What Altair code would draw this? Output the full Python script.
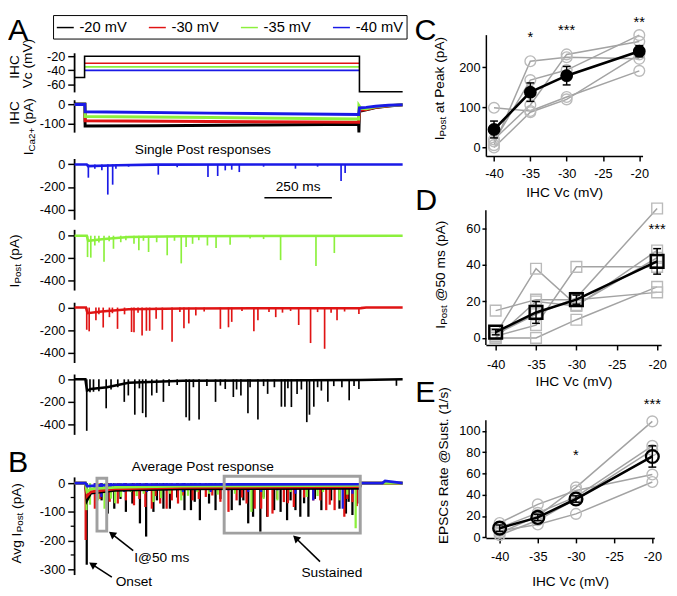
import altair as alt
import pandas as pd

FONT = "Liberation Sans"
CONDS = ["-20 mV", "-30 mV", "-35 mV", "-40 mV"]
COLORS = ["#000000", "#e01414", "#8cf03c", "#1a1ae6"]
BLACK, RED, GREEN, BLUE = COLORS
GRAY_LINE = "#a3a3a3"
GRAY_MARK = "#bababa"
BOX_GRAY = "#a0a0a0"
T_DOMAIN = [0, 1215]

# ---------------- A: IHC command voltage (mV) ----------------
VC_BLACK_T = [0, 37, 37, 1055, 1055, 1215]
VC_BLACK_V = [-50, -50, -20, -20, -70, -70]
VC_STEP_T = [37, 1055]
VC_STEP_LEVELS = [-30, -35, -40]

# ---------------- A: IHC Ca2+ current (pA) ----------------
ICA_BLACK_T = [0, 38, 39, 300, 700, 1052, 1053, 1055, 1080, 1115, 1163, 1215]
ICA_BLACK_V = [2, 2, -112, -110, -106, -103, -145, -35, -28, -16, -8, -2]
ICA_RED_T = [0, 38, 39, 500, 1052, 1055, 1080, 1115, 1163, 1215]
ICA_RED_V = [0, 0, -84, -88, -92, -30, -26, -15, -7, -2]
ICA_GREEN_T = [0, 38, 39, 500, 1052, 1053, 1060, 1080, 1115, 1163, 1215]
ICA_GREEN_V = [0, 0, -62, -68, -75, -5, -20, -22, -12, -6, -1]
ICA_BLUE_T = [0, 38, 39, 500, 1052, 1055, 1080, 1115, 1163, 1215]
ICA_BLUE_V = [0, 0, -38, -45, -52, -18, -15, -9, -4, -1]

# ---------------- A: single post responses: EPSC times (ms) / peaks (pA) ----------------
BLUE_EV_T = [51, 75, 101, 123, 141, 153, 200, 310, 380, 494, 530, 558, 582, 610, 700, 818, 900, 987, 1002]
BLUE_EV_A = [-118, -38, -53, -268, -180, -38, -20, -91, -25, -112, -103, -53, -47, -68, -20, -38, -20, -147, -76]
BLUE_BASE_T = [0, 45, 50, 160, 300, 1215]
BLUE_BASE_V = [0, 0, -15, -8, -2, 0]

GREEN_EV_T = [48, 60, 75, 90, 109, 128, 144, 171, 190, 220, 238, 255, 274, 304, 343, 370, 395, 413, 437, 460,
              492, 524, 576, 650, 700, 763, 894, 962]
GREEN_EV_A = [-190, -195, -87, -60, -232, -50, -116, -58, -40, -72, -130, -45, -145, -58, -174, -45, -246, -101,
              -72, -40, -87, -110, -81, -25, -30, -217, -270, -154]
GREEN_BASE_T = [0, 45, 50, 110, 200, 400, 1215]
GREEN_BASE_V = [0, 0, -45, -30, -12, -5, 0]

RED_EV_T = [45, 54, 79, 90, 106, 129, 140, 159, 185, 211, 220, 235, 250, 266, 278, 302, 325, 361, 390, 405,
            423, 449, 480, 540, 570, 582, 620, 664, 679, 720, 745, 770, 800, 830, 874, 900, 926, 950, 972, 1000, 1053]
RED_EV_A = [-197, -211, -113, -60, -177, -85, -50, -189, -60, -217, -220, -45, -248, -206, -206, -99, -197, -304,
            -40, -183, -141, -70, -35, -189, -175, -127, -30, -211, -113, -40, -85, -45, -30, -155, -315, -40,
            -366, -45, -113, -35, -56]
RED_BASE_T = [0, 42, 48, 100, 200, 400, 1060, 1080, 1215]
RED_BASE_V = [0, 0, -50, -35, -15, -8, -5, 0, 0]

BLACK_EV_T = [45, 57, 70, 90, 117, 135, 160, 184, 199, 223, 240, 252, 264, 286, 304, 329, 350, 380, 413, 425,
              440, 461, 490, 522, 540, 558, 588, 600, 616, 642, 650, 679, 700, 715, 740, 766, 779, 790, 803, 824,
              840, 860, 870, 886, 900, 914, 938, 960, 990, 1017, 1035, 1053, 1192]
BLACK_EV_A = [-457, -114, -110, -105, -257, -90, -70, -200, -143, -314, -80, -300, -337, -143, -120, -200, -60,
              -50, -337, -366, -70, -357, -60, -200, -55, -86, -157, -90, -143, -300, -70, -357, -60, -129, -70,
              -243, -243, -80, -246, -129, -90, -380, -314, -243, -70, -100, -200, -60, -70, -186, -60, -86, -57]
BLACK_BASE_T = [0, 40, 46, 60, 120, 200, 400, 1060, 1215]
BLACK_BASE_V = [0, 0, -100, -85, -70, -30, -12, -6, 0]

# ---------------- B: average post responses ----------------
AVG_BLACK_EV_T = [45, 100, 123, 147, 170, 190, 214, 242, 265, 292, 305, 329, 353, 380, 407, 431, 445, 464, 498,
                  522, 540, 582, 612, 625, 643, 661, 688, 700, 713, 739, 763, 787, 800, 818, 836, 850, 866, 890,
                  914, 950, 981, 1005, 1015, 1029, 1047]
AVG_BLACK_EV_A = [-284, -60, -106, -89, -55, -100, -71, -140, -186, -100, -60, -89, -89, -50, -94, -94, -65, -129,
                  -71, -94, -55, -94, -77, -60, -140, -117, -169, -50, -117, -94, -100, -129, -60, -94, -117, -70,
                  -117, -55, -94, -60, -89, -106, -65, -111, -71]
AVG_RED_EV_T = [41, 75, 95, 130, 160, 190, 220, 240, 262, 286, 300, 317, 341, 360, 383, 401, 437, 460, 486, 510,
                540, 570, 600, 620, 637, 667, 691, 715, 733, 750, 775, 790, 812, 850, 884, 910, 932, 945, 963, 999,
                1010, 1029, 1045]
AVG_RED_EV_A = [-198, -89, -55, -65, -71, -60, -77, -55, -83, -89, -45, -71, -89, -60, -71, -43, -60, -55, -48,
                -43, -65, -100, -60, -50, -71, -89, -89, -117, -106, -55, -66, -70, -83, -50, -60, -60, -94, -75,
                -94, -117, -55, -66, -80]
AVG_GREEN_EV_T = [44, 57, 87, 111, 135, 150, 172, 208, 230, 256, 292, 320, 353, 395, 420, 455, 498, 530, 594,
                  655, 700, 751, 800, 860, 900, 920, 981, 1010, 1041]
AVG_GREEN_EV_A = [-94, -75, -60, -89, -54, -70, -48, -31, -45, -37, -66, -52, -37, -60, -44, -31, -37, -40, -37,
                  -100, -55, -60, -31, -48, -45, -31, -60, -40, -157]
AVG_BLUE_EV_T = [44, 75, 99, 135, 184, 232, 268, 341, 401, 449, 504, 570, 643, 691, 751, 818, 884, 993, 1029]
AVG_BLUE_EV_A = [-37, -31, -48, -25, -31, -25, -31, -25, -31, -25, -31, -25, -31, -31, -25, -37, -60, -89, -37]
AVG_BASE_T = [0, 40, 46, 60, 150, 400, 1055, 1062, 1215]
AVG_BLACK_BASE_V = [0, 0, -60, -35, -25, -20, -18, 0, 0]
AVG_RED_BASE_V = [0, 0, -45, -30, -20, -15, -12, 0, 0]
AVG_GREEN_BASE_V = [0, 0, -30, -20, -15, -10, -8, 0, 0]
AVG_BLUE_BASE_T = [0, 40, 46, 150, 1055, 1062, 1140, 1150, 1215]
AVG_BLUE_BASE_V = [0, 0, -10, -5, -3, 0, 0, 8, 0]
AVG_MINOR_TICKS = [-50, -150, -250]

# annotation boxes / arrows in B (ms, pA)
BOX_T1 = [83, 554]
BOX_T2 = [119, 1058]
BOX_V1 = [17, 24]
BOX_V2 = [-167, -174]
ARROW_TAIL_T = [217, 138, 909]
ARROW_TAIL_V = [-235, -327, -273]
ARROW_HEAD_T = [138, 65, 819]
ARROW_HEAD_V = [-177, -283, -191]
ARROW_ANGLE = [307, 303, 313]

# ---------------- C, D, E: summary vs IHC Vc ----------------
VC_X = [-40, -35, -30, -20]
VC_TICKS = [-40, -35, -30, -25, -20]
C_CELLS = [[99, 91, 126, 191], [6, 215, 225, 221], [15, 168, 193, 280], [20, 106, 232, 264], [0, 88, 120, 232]]
C_MEAN = [45, 138, 179, 240]
C_SEM = [21, 23, 23, 14]
C_STAR_X = [-35, -30, -20]
C_STAR_Y = [264, 281, 301]
C_STAR_TXT = ["*", "***", "**"]

D_CELLS = [[15, 21, 21, 25], [2, 38, 18, 44], [0, 0, 10, 28], [1, 7, 39, 39], [2, 13, 22, 71], [0, 20, 17.5, 48]]
D_MEAN = [3.2, 14, 21, 42]
D_SEM = [1.5, 6, 2.5, 7]
D_STAR_X = [-20]
D_STAR_Y = [57]
D_STAR_TXT = ["***"]

E_CELLS = [[13.5, 31, 44, 59], [4, 20, 47, 109], [9, 23, 38, 86], [2, 16, 36, 82], [6, 12, 22, 52]]
E_MEAN = [8.6, 18.7, 36, 76]
E_SEM = [3, 3, 3, 10]
E_STAR_X = [-30, -20]
E_STAR_Y = [73, 121]
E_STAR_TXT = ["*", "***"]

# ====================================================================
DUMMY = pd.DataFrame({"d": [0]})
LABEL_EXPR = "toString(datum.value)"

WID = {' ': 278, '(': 333, ')': 333, '-': 333, '.': 278, '/': 278, '@': 1015, '+': 584, 'A': 667, 'C': 722,
       'E': 667, 'H': 722, 'I': 278, 'P': 667, 'R': 722, 'S': 667, 'V': 667, 'a': 556, 'c': 500, 'e': 556,
       'k': 500, 'm': 833, 'n': 556, 'o': 556, 'p': 556, 's': 500, 't': 278, 'u': 556, 'g': 556, 'i': 222,
       'l': 222, 'r': 333, 'v': 500}


def tw(s, size):
    return sum(WID.get(ch, 556) for ch in s) * size / 1000.0


def txt(x, y, s, size=14, align="center", baseline="middle", angle=0, dx=0, dy=0, color="black"):
    return alt.Chart(DUMMY).mark_text(text=s, fontSize=size, font=FONT, align=align, baseline=baseline,
                                      angle=angle, dx=dx, dy=dy, color=color).encode(x=x, y=y)


def rot_label(x_px, yc_px, pieces):
    total = sum(tw(s, fs) for s, fs, _ in pieces)
    y0 = yc_px + total / 2.0
    out, off = [], 0.0
    for s, fs, d in pieces:
        lead = len(s) - len(s.lstrip(" "))
        off_here = off + tw(" " * lead, fs)
        out.append(txt(alt.value(x_px), alt.value(y0), s.strip(" "), size=fs, align="left", angle=270,
                       dx=off_here, dy=d))
        off += tw(s, fs)
    return out


def letter(x_px, y_px, s):
    return txt(alt.value(x_px), alt.value(y_px), s, size=31, align="left", baseline="alphabetic")


def ydom(slot_top, slot_bot, ref_px, ppu, ref_val=0.0):
    return [ref_val - (slot_bot - ref_px) / ppu, ref_val + (ref_px - slot_top) / ppu]


def line_df(t, v, cond):
    return pd.DataFrame({"t": t, "v": v, "c": cond, "i": list(range(len(t)))})


def ev_df(t, a, cond):
    return pd.DataFrame({"t": t, "a": a, "b": [0.0] * len(t), "c": cond})


XS = alt.Scale(domain=T_DOMAIN, nice=False, zero=False)
CS = alt.Scale(domain=CONDS, range=COLORS)


def XF(field):
    return alt.X(field, scale=XS, axis=None)


def XD(v):
    return alt.XDatum(v, type="quantitative", scale=XS, axis=None)


class P:
    """y-scale + shared axis helpers of one panel"""

    def __init__(self, ys, ax):
        self.ys, self.ax = ys, ax

    def yf(self, field):
        return alt.Y(field, scale=self.ys, axis=self.ax)

    def yd(self, v):
        return alt.YDatum(v, type="quantitative", scale=self.ys, axis=self.ax)


def left_panel(slot_top, slot_bot, ref_px, ppu, ref_val, axis_top, axis_bot, ticks, build):
    ys = alt.Scale(domain=ydom(slot_top, slot_bot, ref_px, ppu, ref_val), nice=False, zero=False)
    ax = alt.Axis(values=ticks, domain=False, grid=False, tickSize=7, labelPadding=3, title=None,
                  labelExpr=LABEL_EXPR)
    p = P(ys, ax)
    axis_line = alt.Chart(DUMMY).mark_rule(color="black", strokeWidth=1.8).encode(
        x=alt.value(0), y=p.yd(axis_top), y2=alt.Y2Datum(axis_bot))
    return alt.layer(axis_line, *build(p)).properties(width=335, height=slot_bot - slot_top)


def post_layers(p, base_t, base_v, ev_t, ev_a, color, width=2.6):
    base = alt.Chart(line_df(base_t, base_v, "x")).mark_line(color=color, strokeWidth=width).encode(
        x=XF("t:Q"), y=p.yf("v:Q"), order="i:Q")
    ev = alt.Chart(ev_df(ev_t, ev_a, "x")).mark_rule(color=color, strokeWidth=1.7).encode(
        x=XF("t:Q"), y=p.yf("a:Q"), y2="b:Q")
    return [base, ev]


# ---- Vc panel
def vc_build(p):
    rows = [line_df(VC_STEP_T, [lv, lv], CONDS[k + 1]) for k, lv in enumerate(VC_STEP_LEVELS)]
    rows.append(line_df(VC_BLACK_T, VC_BLACK_V, CONDS[0]))
    df = pd.concat(rows, ignore_index=True)
    leg = alt.Legend(orient="none", legendX=-22, legendY=-20, direction="horizontal", title=None,
                     symbolType="stroke", symbolSize=300, symbolStrokeWidth=1.5, labelFontSize=15,
                     labelFont=FONT, labelColor="black", strokeColor="black", padding=3, columnPadding=18,
                     labelOffset=5, columns=4)
    lines = alt.Chart(df).mark_line(strokeWidth=1.6).encode(
        x=XF("t:Q"), y=p.yf("v:Q"), color=alt.Color("c:N", scale=CS, legend=leg),
        detail="c:N", order="i:Q")
    return [lines, letter(-68, 5, "A")] + rot_label(-61, 33, [("IHC", 14, 0)]) + \
        rot_label(-47, 29.5, [("Vc (mV)", 14, 0)])


vc_panel = left_panel(28, 88, 50, 0.725, -20, -15.9, -71, [-20, -40, -60], vc_build)


def ica_build(p):
    df = pd.concat([line_df(ICA_BLACK_T, ICA_BLACK_V, CONDS[0]), line_df(ICA_RED_T, ICA_RED_V, CONDS[1]),
                    line_df(ICA_GREEN_T, ICA_GREEN_V, CONDS[2]), line_df(ICA_BLUE_T, ICA_BLUE_V, CONDS[3])],
                   ignore_index=True)
    lines = alt.Chart(df).mark_line(strokeWidth=3).encode(
        x=XF("t:Q"), y=p.yf("v:Q"), color=alt.Color("c:N", scale=CS, legend=None),
        detail="c:N", order="i:Q")
    return [lines] + rot_label(-61, 20, [("IHC", 14, 0)]) + \
        rot_label(-46.5, 34, [("I", 14, 0), ("Ca2+", 10, 3), (" (pA)", 14, 0)])


ica_panel = left_panel(88, 130, 99.3, 0.197, 0, 22, -146, [0, -100], ica_build)


def blue_build(p):
    extra = [
        txt(XD(475), p.yd(128), "Single Post responses", size=14),
        alt.Chart(DUMMY).mark_rule(color="black", strokeWidth=1.6).encode(
            x=XD(703), x2=alt.X2Datum(953), y=p.yd(-296)),
        txt(XD(828), p.yd(-205), "250 ms", size=14),
    ]
    return post_layers(p, BLUE_BASE_T, BLUE_BASE_V, BLUE_EV_T, BLUE_EV_A, BLUE) + extra


blue_panel = left_panel(130, 217, 160.5, 0.115, 0, 48, -492, [0, -200, -400], blue_build)


def green_build(p):
    return post_layers(p, GREEN_BASE_T, GREEN_BASE_V, GREEN_EV_T, GREEN_EV_A, GREEN) + \
        rot_label(-60.5, 42, [("I", 14, 0), ("Post", 10, 3), (" (pA)", 14, 0)])


green_panel = left_panel(217, 290, 233.3, 0.115, 0, 52, -487, [0, -200, -400], green_build)


def red_build(p):
    return post_layers(p, RED_BASE_T, RED_BASE_V, RED_EV_T, RED_EV_A, RED)


red_panel = left_panel(290, 364, 306.7, 0.115, 0, 43, -492, [0, -200, -400], red_build)


def black_build(p):
    return post_layers(p, BLACK_BASE_T, BLACK_BASE_V, BLACK_EV_T, BLACK_EV_A, BLACK)


black_panel = left_panel(364, 438, 380, 0.115, 0, 43, -493, [0, -200, -400], black_build)


def avg_build(p):
    ev = pd.concat([ev_df(AVG_BLACK_EV_T, AVG_BLACK_EV_A, CONDS[0]), ev_df(AVG_RED_EV_T, AVG_RED_EV_A, CONDS[1]),
                    ev_df(AVG_GREEN_EV_T, AVG_GREEN_EV_A, CONDS[2]), ev_df(AVG_BLUE_EV_T, AVG_BLUE_EV_A, CONDS[3])],
                   ignore_index=True)
    base = pd.concat([line_df(AVG_BASE_T, AVG_BLACK_BASE_V, CONDS[0]), line_df(AVG_BASE_T, AVG_RED_BASE_V, CONDS[1]),
                      line_df(AVG_BASE_T, AVG_GREEN_BASE_V, CONDS[2]),
                      line_df(AVG_BLUE_BASE_T, AVG_BLUE_BASE_V, CONDS[3])], ignore_index=True)
    rules = alt.Chart(ev).mark_rule(strokeWidth=2.3).encode(
        x=XF("t:Q"), y=p.yf("a:Q"), y2="b:Q", color=alt.Color("c:N", scale=CS, legend=None))
    lines = alt.Chart(base).mark_line(strokeWidth=2.8).encode(
        x=XF("t:Q"), y=p.yf("v:Q"), color=alt.Color("c:N", scale=CS, legend=None),
        detail="c:N", order="i:Q")
    minor = alt.Chart(pd.DataFrame({"m": AVG_MINOR_TICKS})).mark_rule(color="black", strokeWidth=1.3).encode(
        x=alt.value(-4), x2=alt.value(0), y=p.yf("m:Q"))
    box_df = pd.DataFrame({"t1": BOX_T1, "t2": BOX_T2, "v1": BOX_V1, "v2": BOX_V2})
    boxes = alt.Chart(box_df).mark_rect(fillOpacity=0, stroke=BOX_GRAY, strokeWidth=3).encode(
        x=XF("t1:Q"), x2="t2:Q", y=p.yf("v1:Q"), y2="v2:Q")
    arr_df = pd.DataFrame({"t1": ARROW_TAIL_T, "v1": ARROW_TAIL_V, "t2": ARROW_HEAD_T, "v2": ARROW_HEAD_V,
                           "ang": ARROW_ANGLE})
    shafts = alt.Chart(arr_df).mark_rule(color="black", strokeWidth=1.6).encode(
        x=XF("t1:Q"), x2="t2:Q", y=p.yf("v1:Q"), y2="v2:Q")
    heads = alt.Chart(arr_df).mark_point(shape="triangle-up", filled=True, size=70, color="black",
                                         opacity=1).encode(
        x=XF("t2:Q"), y=p.yf("v2:Q"), angle=alt.Angle("ang:Q", scale=None))
    texts = [
        txt(XD(475), p.yd(55), "Average Post response", size=14),
        txt(XD(221), p.yd(-262), "I@50 ms", size=14, align="left"),
        txt(XD(152), p.yd(-344), "Onset", size=14, align="left"),
        txt(XD(953), p.yd(-314), "Sustained", size=14),
    ]
    return [rules, lines, minor, boxes, shafts, heads] + texts + [letter(-68, 37, "B")] + \
        rot_label(-59, 89, [("Avg I", 14, 0), ("Post", 10, 3), (" (pA)", 14, 0)])


avg_panel = left_panel(438, 581, 486, 0.2933, 0, 20, -320, [0, -100, -200, -300], avg_build)


# ---------------- right column ----------------
def summary_panel(cells, mean, sem, shape, mean_filled, slot_top, slot_bot, ref_px, ppu, xdom, width, yticks,
                  axis_top, full_domain, lp, tp, star_x, star_y, star_txt, extras):
    dom = ydom(slot_top, slot_bot, ref_px, ppu)
    ys = alt.Scale(domain=dom, nice=False, zero=False)
    xs = alt.Scale(domain=xdom, nice=False, zero=False)
    xaxis = alt.Axis(values=VC_TICKS, grid=False, tickSize=5, labelPadding=lp, title="IHC Vc (mV)",
                     titlePadding=tp, labelExpr=LABEL_EXPR)
    yaxis = alt.Axis(values=yticks, grid=False, domain=full_domain, tickSize=4, labelPadding=2, title=None,
                     labelExpr=LABEL_EXPR)
    rows = []
    for ci, c in enumerate(cells):
        for vx, val in zip(VC_X, c):
            rows.append({"cell": ci, "vc": vx, "val": val})
    cdf = pd.DataFrame(rows)
    mdf = pd.DataFrame({"vc": VC_X, "val": mean, "lo": [m - s for m, s in zip(mean, sem)],
                        "hi": [m + s for m, s in zip(mean, sem)]})
    X = alt.X("vc:Q", scale=xs, axis=xaxis)

    def Y(f):
        return alt.Y(f, scale=ys, axis=yaxis)

    gl = alt.Chart(cdf).mark_line(color=GRAY_LINE, strokeWidth=1.5).encode(x=X, y=Y("val:Q"), detail="cell:N")
    gp = alt.Chart(cdf).mark_point(shape=shape, filled=False, size=120, color=GRAY_MARK, strokeWidth=1.4,
                                   opacity=1).encode(x=X, y=Y("val:Q"))
    ml = alt.Chart(mdf).mark_line(color="black", strokeWidth=2.6).encode(x=X, y=Y("val:Q"))
    er = alt.Chart(mdf).mark_rule(color="black", strokeWidth=1.5).encode(x=X, y=Y("lo:Q"), y2="hi:Q")
    cap_lo = alt.Chart(mdf).mark_tick(orient="horizontal", size=8, thickness=1.5, color="black",
                                      opacity=1).encode(x=X, y=Y("lo:Q"))
    cap_hi = alt.Chart(mdf).mark_tick(orient="horizontal", size=8, thickness=1.5, color="black",
                                      opacity=1).encode(x=X, y=Y("hi:Q"))
    if mean_filled:
        mp = alt.Chart(mdf).mark_point(shape=shape, filled=True, size=170, color="black", opacity=1).encode(
            x=X, y=Y("val:Q"))
    else:
        mp = alt.Chart(mdf).mark_point(shape=shape, filled=False, size=170, color="black", strokeWidth=2.4,
                                       opacity=1).encode(x=X, y=Y("val:Q"))
    sdf = pd.DataFrame({"vc": star_x, "val": star_y, "s": star_txt})
    stars = alt.Chart(sdf).mark_text(fontSize=15, font=FONT, baseline="alphabetic", color="black").encode(
        x=X, y=Y("val:Q"), text="s:N")
    layers = [gl, gp, ml, er, cap_lo, cap_hi, mp, stars]
    if not full_domain:
        layers.append(alt.Chart(DUMMY).mark_rule(color="black", strokeWidth=1.5).encode(
            x=alt.value(0), y=alt.YDatum(axis_top, type="quantitative", scale=ys, axis=yaxis),
            y2=alt.Y2Datum(dom[0])))
    return alt.layer(*layers, *extras).properties(width=width, height=slot_bot - slot_top)


c_panel = summary_panel(C_CELLS, C_MEAN, C_SEM, "circle", True, 28, 152, 143.3, 0.41, [-41.12, -19.55], 160,
                        [0, 100, 200], None, True, 7, 5, C_STAR_X, C_STAR_Y, C_STAR_TXT,
                        [letter(-73, 5, "C")] +
                        rot_label(-47, 55, [("I", 14, 0), ("Post", 10, 3), (" at Peak (pA)", 14, 0)]))
d_panel = summary_panel(D_CELLS, D_MEAN, D_SEM, "square", False, 152, 345, 337.7, 1.861, [-41.21, -19.5], 179,
                        [0, 20, 40, 60], 70.1, False, 9, 3, D_STAR_X, D_STAR_Y, D_STAR_TXT,
                        [letter(-72, 55, "D")] +
                        rot_label(-46, 121, [("I", 14, 0), ("Post", 10, 3), (" @50 ms (pA)", 14, 0)]))
e_panel = summary_panel(E_CELLS, E_MEAN, E_SEM, "circle", False, 345, 542, 541.3, 1.086, [-41.8, -19.74], 172,
                        [0, 20, 40, 60, 80, 100], 110, False, 8, 12, E_STAR_X, E_STAR_Y, E_STAR_TXT,
                        [letter(-72, 58, "E")] +
                        rot_label(-43, 123, [("EPSCs Rate @Sust. (1/s)", 14, 0)]))

left = alt.vconcat(vc_panel, ica_panel, blue_panel, green_panel, red_panel, black_panel, avg_panel,
                   spacing=0, bounds="flush").resolve_scale(color="independent")
right = alt.vconcat(c_panel, d_panel, e_panel, spacing=0, bounds="flush")

chart = alt.hconcat(left, right, spacing=6).properties(
    padding={"left": 0, "top": 0, "right": 0, "bottom": 0}
).configure_view(stroke=None).configure_axis(
    labelFont=FONT, labelFontSize=13, titleFont=FONT, titleFontSize=14, titleFontWeight="normal",
    labelColor="black", titleColor="black", domainColor="black", tickColor="black", domainWidth=1.5,
    tickWidth=1.5)

chart.save("out.html", embed_options={"renderer": "svg", "actions": False})
